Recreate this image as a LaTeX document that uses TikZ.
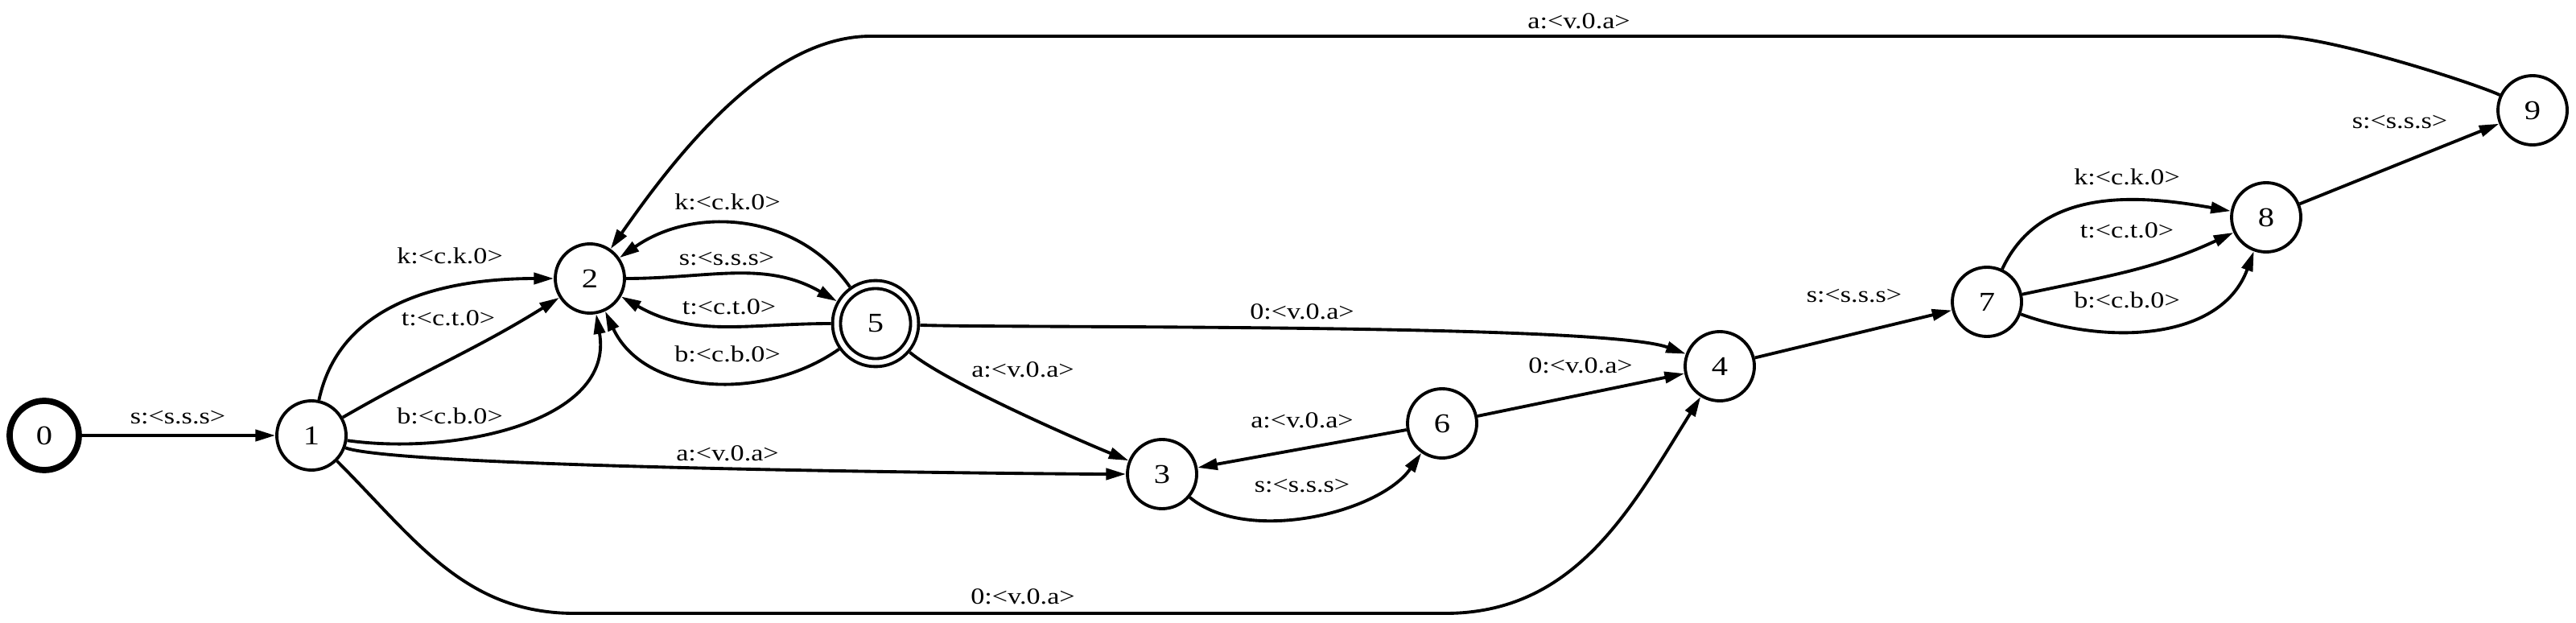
\documentclass[tikz,border=0pt]{standalone}
\usepackage{fontspec}
\setmainfont{Liberation Serif}[FakeStretch=1.2]
\usetikzlibrary{arrows.meta}

\tikzset{
  stnode/.style={circle,draw,line width=1.1pt,minimum size=0.86cm,inner sep=0pt,
    font=\fontsize{9.6}{11}\selectfont},
  startnode/.style={stnode,line width=2.2pt},
  accnode/.style={stnode,double,double distance=0.06cm,minimum size=0.97cm,outer sep=0.07cm},
  lbl/.style={inner sep=1pt,font=\fontsize{8.1}{10}\selectfont},
  trans/.style={line width=1.1pt,-{Triangle[length=7pt,width=4pt]}}
}

\begin{document}
\begin{tikzpicture}

\useasboundingbox (0,0) rectangle (32.01,7.73);

% states
\node[startnode] (n0) at (0.55,2.32) {0};
\node[stnode] (n1) at (3.87,2.32) {1};
\node[stnode] (n2) at (7.33,4.27) {2};
\node[accnode] (n5) at (10.88,3.71) {5};
\node[stnode] (n3) at (14.44,1.84) {3};
\node[stnode] (n6) at (17.92,2.47) {6};
\node[stnode] (n4) at (21.37,3.18) {4};
\node[stnode] (n7) at (24.69,3.98) {7};
\node[stnode] (n8) at (28.16,5.03) {8};
\node[stnode] (n9) at (31.47,6.36) {9};

% bends of the long arcs
\coordinate (b14a) at (7.14,0.11);
\coordinate (b14b) at (17.96,0.11);
\coordinate (t92a) at (28.27,7.28);
\coordinate (t92b) at (10.82,7.28);

% transitions
\draw[trans] (n0) -- (n1);
\draw[trans] (n1) to[out=78,in=180] (n2);
\draw[trans] (n1) to[out=30,in=212] (n2);
\draw[trans] (n1) to[out=-8,in=-80] (n2);
\draw[trans] (n1) to[out=-20,in=180,looseness=0.2] (n3);
\draw[trans] (n1) to[out=-45,in=180] (b14a) -- (b14b) to[out=0,in=-122] (n4);
\draw[trans] (n2) to[out=0,in=150] (n5);
\draw[trans] (n5) to[out=125,in=35] (n2);
\draw[trans] (n5) to[out=180,in=-30] (n2);
\draw[trans] (n5) to[out=-145,in=-65] (n2);
\draw[trans] (n5) to[out=-2,in=160,looseness=0.3] (n4);
\draw[trans] (n5) to[out=-40,in=158,looseness=0.5] (n3);
\draw[trans] (n3) to[out=-40,in=-125,looseness=0.8] (n6);
\draw[trans] (n6) -- (n3);
\draw[trans] (n6) -- (n4);
\draw[trans] (n4) -- (n7);
\draw[trans] (n7) to[out=65,in=170] (n8);
\draw[trans] (n7) to[out=12,in=205] (n8);
\draw[trans] (n7) to[out=-20,in=-110] (n8);
\draw[trans] (n8) -- (n9);
\draw[trans] (n9) to[out=155,in=0,out looseness=0.3,in looseness=0.6] (t92a) -- (t92b)
  to[out=180,in=55,looseness=0.8] (n2);

% labels
\node[lbl] (l01) at (2.21,2.54) {s:<s.s.s>};
\node[lbl] (l12k) at (5.59,4.55) {k:<c.k.0>};
\node[lbl] (l12t) at (5.57,3.78) {t:<c.t.0>};
\node[lbl] (l12b) at (5.59,2.56) {b:<c.b.0>};
\node[lbl] (l13) at (9.04,2.10) {a:<v.0.a>};
\node[lbl] (l14) at (12.71,0.32) {0:<v.0.a>};
\node[lbl] (l52k) at (9.04,5.22) {k:<c.k.0>};
\node[lbl] (l25) at (9.03,4.51) {s:<s.s.s>};
\node[lbl] (l52t) at (9.06,3.92) {t:<c.t.0>};
\node[lbl] (l52b) at (9.04,3.33) {b:<c.b.0>};
\node[lbl] (l54) at (16.18,3.86) {0:<v.0.a>};
\node[lbl] (l53) at (12.71,3.14) {a:<v.0.a>};
\node[lbl] (l63) at (16.18,2.51) {a:<v.0.a>};
\node[lbl] (l36) at (16.18,1.69) {s:<s.s.s>};
\node[lbl] (l64) at (19.64,3.19) {0:<v.0.a>};
\node[lbl] (l47) at (23.04,4.05) {s:<s.s.s>};
\node[lbl] (l78k) at (26.43,5.53) {k:<c.k.0>};
\node[lbl] (l78t) at (26.43,4.87) {t:<c.t.0>};
\node[lbl] (l78b) at (26.43,4.00) {b:<c.b.0>};
\node[lbl] (l89) at (29.82,6.21) {s:<s.s.s>};
\node[lbl] (l92) at (19.62,7.47) {a:<v.0.a>};

\end{tikzpicture}
\end{document}
